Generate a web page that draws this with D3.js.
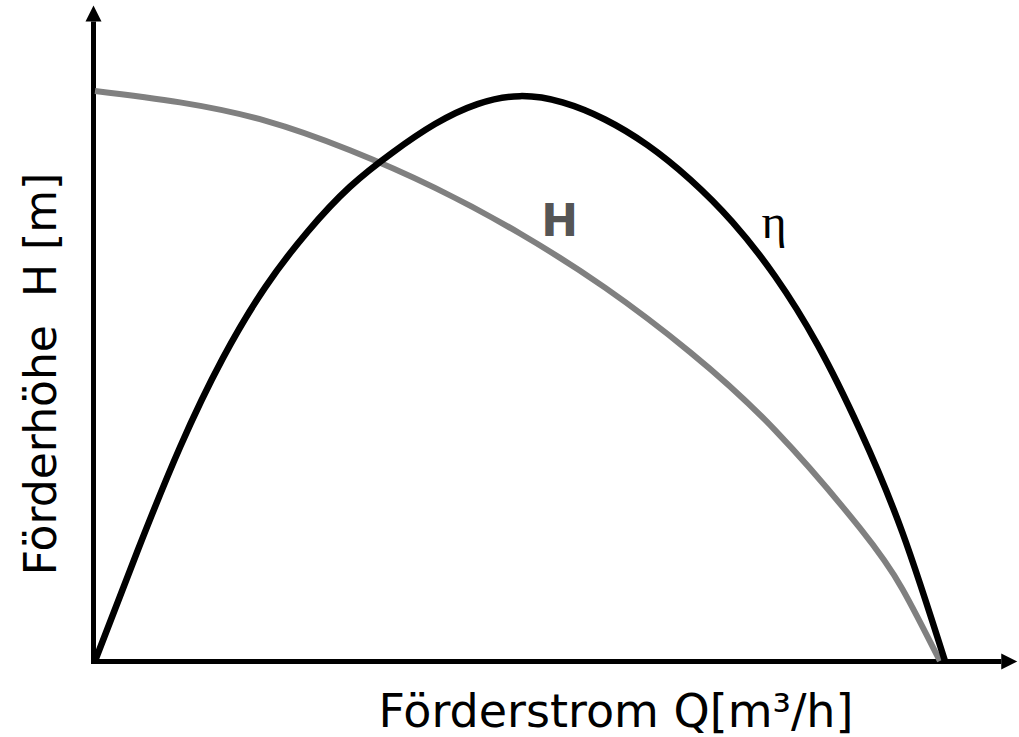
<!DOCTYPE html>
<html>
<head>
<meta charset="utf-8">
<script src="https://cdn.jsdelivr.net/npm/d3@7"></script>
<style>
    html, body { margin: 0; padding: 0; background: #fff; }
    svg { display: block; }
    .lbl { font-family: "DejaVu Sans", Verdana, sans-serif; fill: #000; white-space: pre; }
</style>
</head>
<body>
<div id="chart"></div>
<script>
"use strict";

// pump curve H over flow Q, and efficiency eta (both in % of max)
const headQ = [0, 10, 20, 30, 40, 50, 60, 70, 80, 90, 95, 99.4];
const headH = [100, 98, 94.8, 89.6, 83, 75, 65.5, 54.2, 40.5, 23.3, 12.6, 0];

const etaQ = [0, 5, 10, 15, 20, 25, 30, 35, 40, 45, 50, 55, 60, 65, 70, 75, 80, 85, 90, 95, 100];
const etaV = [0, 19.3, 37.5, 53, 65.5, 75.3, 83.2, 89.2, 94.2, 97.7, 99.1, 98, 95, 90.5, 84.5, 77, 67.5, 55.5, 40.5, 22.5, 0];

const axisEnd = { q: 108.5, h: 115 };

const xLabel = "Förderstrom Q[m³/h]";
const yLabel = "Förderhöhe  H [m]";
const seriesLabels = ["H", "η"];

const GRAY = "#808080";

function buildChart() {
    const width = 1019, height = 737;
    const svg = d3.select("#chart").append("svg")
        .attr("width", width).attr("height", height);

    const x = d3.scaleLinear().domain([0, 100]).range([95, 945]);
    const y = d3.scaleLinear().domain([0, 100]).range([661, 91]);

    const line = d3.line()
        .x(function (d) { return x(d[0]); })
        .y(function (d) { return y(d[1]); })
        .curve(d3.curveNatural);

    const headData = headQ.map(function (q, i) { return [q, headH[i]]; });
    const etaData = etaQ.map(function (q, i) { return [q, etaV[i]]; });

    // axes
    const x0 = x(0) - 1.5, y0 = y(0) + 0.5;
    const xEnd = x(axisEnd.q), yEnd = y(axisEnd.h);
    const ah = 16, aw = 8;
    svg.append("line")
        .attr("x1", x0).attr("y1", y0 + 2.5)
        .attr("x2", x0).attr("y2", yEnd + ah)
        .attr("stroke", "#000").attr("stroke-width", 5);
    svg.append("path")
        .attr("d", "M" + x0 + "," + yEnd + "L" + (x0 + aw) + "," + (yEnd + ah) + "L" + (x0 - aw) + "," + (yEnd + ah) + "Z")
        .attr("fill", "#000");
    svg.append("line")
        .attr("x1", x0 - 2.5).attr("y1", y0)
        .attr("x2", xEnd - ah).attr("y2", y0)
        .attr("stroke", "#000").attr("stroke-width", 5);
    svg.append("path")
        .attr("d", "M" + xEnd + "," + y0 + "L" + (xEnd - ah) + "," + (y0 - aw) + "L" + (xEnd - ah) + "," + (y0 + aw) + "Z")
        .attr("fill", "#000");

    // curves
    svg.append("path")
        .datum(headData)
        .attr("d", line)
        .attr("fill", "none")
        .attr("stroke", GRAY)
        .attr("stroke-width", 6);
    svg.append("path")
        .datum(etaData)
        .attr("d", line)
        .attr("fill", "none")
        .attr("stroke", "#000")
        .attr("stroke-width", 6.5);

    // curve labels
    svg.append("text")
        .attr("x", x(52.5)).attr("y", y(74.5))
        .attr("font-family", "'DejaVu Sans', Verdana, sans-serif")
        .attr("font-weight", "bold")
        .attr("font-size", 44)
        .attr("fill", "#555")
        .text(seriesLabels[0]);
    svg.append("text")
        .attr("x", x(78.4)).attr("y", y(74.2))
        .attr("font-family", "'Liberation Serif', 'Times New Roman', serif")
        .attr("font-size", 48)
        .attr("fill", "#000")
        .text(seriesLabels[1]);

    // axis titles
    svg.append("text")
        .attr("class", "lbl")
        .attr("x", 616).attr("y", 727)
        .attr("text-anchor", "middle")
        .attr("font-size", 46)
        .text(xLabel);
    svg.append("text")
        .attr("class", "lbl")
        .attr("transform", "translate(56,374) rotate(-90)")
        .attr("text-anchor", "middle")
        .attr("font-size", 44)
        .text(yLabel);
}

buildChart();
</script>
</body>
</html>
